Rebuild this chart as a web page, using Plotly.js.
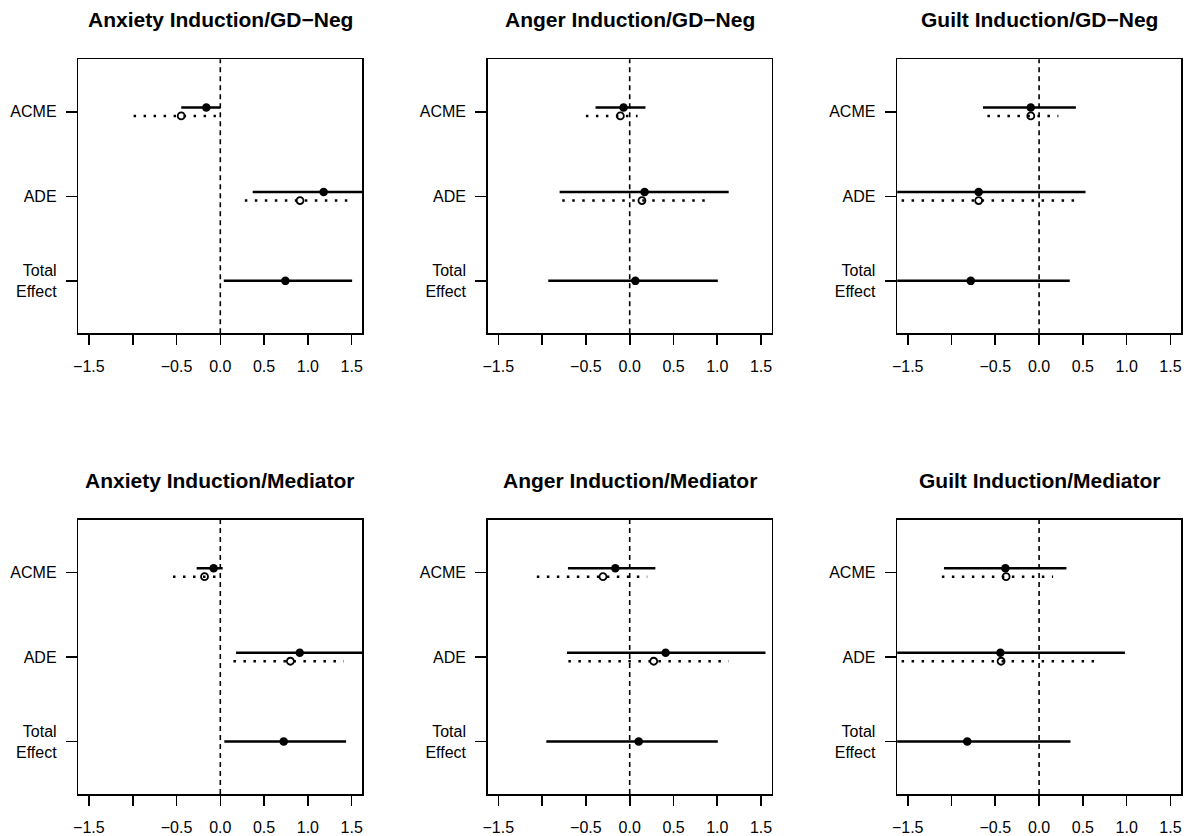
<!DOCTYPE html>
<html>
<head>
<meta charset="utf-8">
<script src="https://cdn.plot.ly/plotly-3.0.1.min.js"></script>
<style>html,body{margin:0;padding:0;background:#fff;}#chart{width:1188px;height:836px;}</style>
</head>
<body>
<div id="chart"></div>
<script>
// ---- data ----
const panelTitles = [
  "Anxiety Induction/GD\u2212Neg", "Anger Induction/GD\u2212Neg", "Guilt Induction/GD\u2212Neg",
  "Anxiety Induction/Mediator", "Anger Induction/Mediator", "Guilt Induction/Mediator"
];
const effectLabels = ["ACME", "ADE", "Total<br>Effect"];
const effectPos = [3, 2, 1];
const xTickVals = [-1.5, -1.0, -0.5, 0.0, 0.5, 1.0, 1.5];
const xTickText = ["\u22121.5", "", "\u22120.5", "0.0", "0.5", "1.0", "1.5"];

// treated (solid) estimates and intervals, one value per panel
const acmeTEst = [-0.16, -0.07, -0.095, -0.076, -0.164, -0.385];
const acmeTLo  = [-0.446, -0.39, -0.64, -0.27, -0.705, -1.086];
const acmeTHi  = [0.0, 0.18, 0.42, 0.027, 0.293, 0.312];
const adeTEst  = [1.18, 0.17, -0.69, 0.907, 0.41, -0.442];
const adeTLo   = [0.37, -0.80, -1.9, 0.18, -0.716, -1.9];
const adeTHi   = [2.0, 1.13, 0.53, 1.8, 1.55, 0.98];
// control (dotted) estimates and intervals
const acmeCEst = [-0.446, -0.107, -0.095, -0.18, -0.305, -0.377];
const acmeCLo  = [-0.99, -0.50, -0.59, -0.54, -1.06, -1.11];
const acmeCHi  = [-0.05, 0.09, 0.22, 0.03, 0.2, 0.16];
const adeCEst  = [0.91, 0.14, -0.69, 0.80, 0.274, -0.434];
const adeCLo   = [0.28, -0.77, -1.57, 0.15, -0.70, -1.57];
const adeCHi   = [1.52, 0.92, 0.48, 1.41, 1.13, 0.70];
// total effect
const totEst = [0.743, 0.065, -0.78, 0.724, 0.103, -0.82];
const totLo  = [0.04, -0.93, -2.0, 0.046, -0.952, -2.0];
const totHi  = [1.505, 1.006, 0.35, 1.436, 1.006, 0.358];

// ---- layout geometry ----
const W = 1188, H = 836;
const colLeft = [78.4, 487.8, 897.2], boxW = 283.8;
const rowTop = [59.3, 520.0], boxH = 274;
const off = 0.05;
const FONT = "Liberation Sans, Arial, Helvetica, sans-serif";

const traces = [];
const layout = {
  width: W, height: H,
  margin: {l: 0, r: 0, t: 0, b: 0},
  paper_bgcolor: "#ffffff", plot_bgcolor: "#ffffff",
  showlegend: false,
  font: {family: FONT, size: 16, color: "#000"},
  annotations: [], shapes: []
};

for (let i = 0; i < 6; i++) {
  const r = Math.floor(i / 3), c = i % 3;
  const id = i === 0 ? "" : String(i + 1);
  const xa = "x" + id, ya = "y" + id;
  const x0 = colLeft[c], y0 = rowTop[r];
  layout["xaxis" + id] = {
    domain: [x0 / W, (x0 + boxW) / W],
    range: [-1.62, 1.62], anchor: ya,
    showline: true, mirror: true, linecolor: "#000", linewidth: 1.6,
    showgrid: false, zeroline: false,
    ticks: "outside", ticklen: 10, tickwidth: 1.6, tickcolor: "#000",
    tickmode: "array", tickvals: xTickVals, ticktext: xTickText,
    tickfont: {family: FONT, size: 16, color: "#000"},
    ticklabelstandoff: 8, fixedrange: true
  };
  layout["yaxis" + id] = {
    domain: [1 - (y0 + boxH) / H, 1 - y0 / H],
    range: [0.38, 3.62], anchor: xa,
    showline: true, mirror: true, linecolor: "#000", linewidth: 1.6,
    showgrid: false, zeroline: false,
    ticks: "outside", ticklen: 11, tickwidth: 1.6, tickcolor: "#000",
    tickmode: "array", tickvals: effectPos, ticktext: effectLabels,
    tickfont: {family: FONT, size: 16, color: "#000"},
    ticklabelstandoff: 6, fixedrange: true
  };
  layout.annotations.push({
    text: "<b>" + panelTitles[i] + "</b>",
    xref: "x" + id + " domain", x: 0.5, xanchor: "center",
    yref: "paper", y: 1 - (y0 - 40.0) / H, yanchor: "middle",
    showarrow: false, font: {family: FONT, size: 21, color: "#000"}
  });
  layout.shapes.push({
    type: "line", xref: xa, yref: ya + " domain",
    x0: 0, x1: 0, y0: 0, y1: 1,
    line: {color: "#000", width: 1.6, dash: "5px,4px"}
  });

  // solid (treated) intervals
  traces.push({
    type: "scatter", mode: "lines", xaxis: xa, yaxis: ya, hoverinfo: "skip",
    x: [acmeTLo[i], acmeTHi[i], null, adeTLo[i], adeTHi[i], null, totLo[i], totHi[i]],
    y: [effectPos[0] + off, effectPos[0] + off, null, effectPos[1] + off, effectPos[1] + off, null, effectPos[2], effectPos[2]],
    line: {color: "#000", width: 2.5}
  });
  // dotted (control) intervals
  traces.push({
    type: "scatter", mode: "lines", xaxis: xa, yaxis: ya, hoverinfo: "skip",
    x: [acmeCLo[i], acmeCHi[i], null, adeCLo[i], adeCHi[i]],
    y: [effectPos[0] - off, effectPos[0] - off, null, effectPos[1] - off, effectPos[1] - off],
    line: {color: "#000", width: 2.5, dash: "2.5px,7.5px"}
  });
  // filled points
  traces.push({
    type: "scatter", mode: "markers", xaxis: xa, yaxis: ya, hoverinfo: "skip",
    x: [acmeTEst[i], adeTEst[i], totEst[i]],
    y: [effectPos[0] + off, effectPos[1] + off, effectPos[2]],
    marker: {symbol: "circle", size: 8.5, color: "#000", line: {width: 0}},
    cliponaxis: true
  });
  // open points
  traces.push({
    type: "scatter", mode: "markers", xaxis: xa, yaxis: ya, hoverinfo: "skip",
    x: [acmeCEst[i], adeCEst[i]],
    y: [effectPos[0] - off, effectPos[1] - off],
    marker: {symbol: "circle-open", size: 7, color: "#000", line: {width: 1.8, color: "#000"}},
    cliponaxis: true
  });
}

Plotly.newPlot("chart", traces, layout, {displayModeBar: false, staticPlot: true});
</script>
</body>
</html>
